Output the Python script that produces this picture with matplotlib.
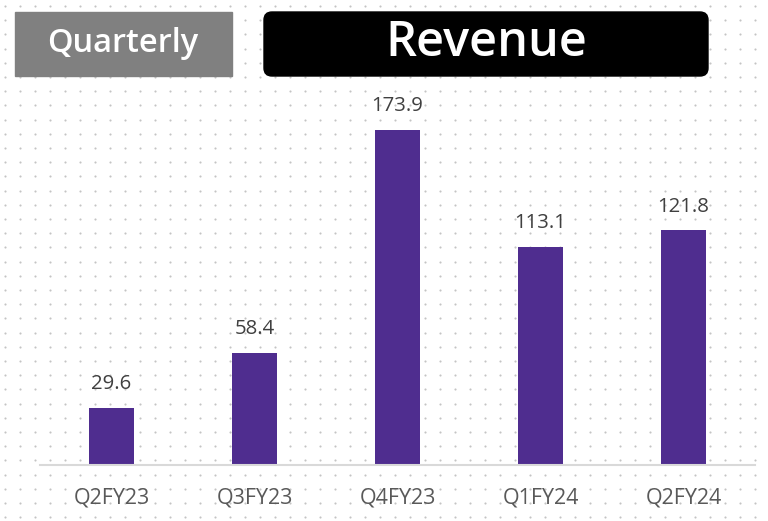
import numpy as np
import matplotlib
matplotlib.use('Agg')
import matplotlib.pyplot as plt
from matplotlib.patches import Rectangle, FancyBboxPatch

plt.rcParams['font.family'] = ['Open Sans', 'DejaVu Sans']

# 数据
quarters = ['Q2FY23', 'Q3FY23', 'Q4FY23', 'Q1FY24', 'Q2FY24']
revenue = [29.6, 58.4, 173.9, 113.1, 121.8]

W, H = 768, 521
fig = plt.figure(figsize=(W / 100, H / 100), dpi=100)
fig.patch.set_facecolor('white')

# 背景点阵
bg = fig.add_axes([0, 0, 1, 1], zorder=0)
bg.set_xlim(0, W)
bg.set_ylim(H, 0)
bg.axis('off')
gx, gy = np.meshgrid(np.arange(5, W, 15), np.arange(6, H, 14.2))
bg.scatter(gx.ravel(), gy.ravel(), s=2.4, color='#c4c4c4', linewidths=0)

# 标题框
bg.add_patch(Rectangle((15, 12), 217, 64, color='#808080'))
bg.text(123, 44, 'Quarterly', color='white', fontsize=23.5, ha='center', va='center',
        fontweight='semibold')
bg.add_patch(FancyBboxPatch((270, 18), 432, 52, boxstyle='round,pad=6,rounding_size=8',
                            color='black'))
bg.text(486, 43, 'Revenue', color='white', fontsize=35, ha='center', va='center',
        fontweight='semibold')

# 柱状图
ax = fig.add_axes([40 / W, (H - 465) / H, 715 / W, 380 / H], zorder=1)
ax.patch.set_alpha(0)
x = np.arange(len(quarters))
bars = ax.bar(x, revenue, width=0.315, color='#4f2d8f')
ax.set_xlim(-0.5, len(quarters) - 0.5)
ax.set_ylim(0, 380 / 1.926)
for b, v in zip(bars, revenue):
    ax.annotate('%.1f' % v, (b.get_x() + b.get_width() / 2, v), xytext=(0, 10),
                textcoords='offset points', ha='center', va='bottom',
                fontsize=14.7, color='#404040')
ax.set_xticks(x)
ax.set_xticklabels(quarters, fontsize=15.5, color='#595959')
ax.tick_params(axis='x', length=0, pad=16)
ax.set_yticks([])
for s in ['top', 'right', 'left']:
    ax.spines[s].set_visible(False)
ax.spines['bottom'].set_color('#d9d9d9')
ax.spines['bottom'].set_linewidth(1.5)

fig.savefig('out.png', dpi=100)
